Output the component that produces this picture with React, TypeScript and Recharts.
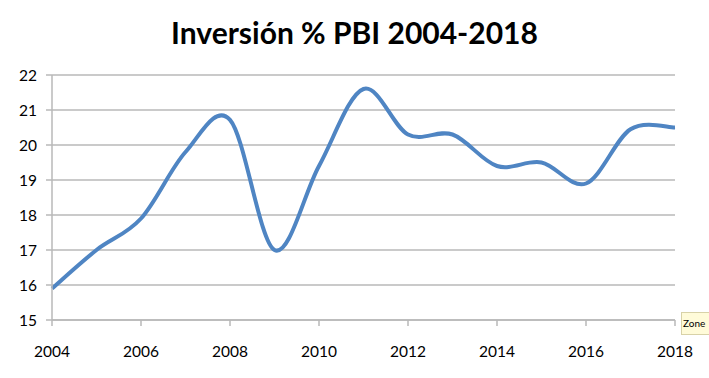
import { LineChart, Line, XAxis, YAxis, CartesianGrid } from "recharts";

const years = [2004, 2005, 2006, 2007, 2008, 2009, 2010, 2011, 2012, 2013, 2014, 2015, 2016, 2017, 2018];
const inversion = [15.9, 17.0, 17.9, 19.8, 20.72, 17.0, 19.4, 21.6, 20.3, 20.3, 19.4, 19.5, 18.9, 20.45, 20.5];
const xTicks = [2004, 2006, 2008, 2010, 2012, 2014, 2016, 2018];
const yTicks = [15, 16, 17, 18, 19, 20, 21, 22];

const data = years.map((year, i) => ({ year, value: inversion[i] }));

const font = "Lato, 'Open Sans', sans-serif";

// Excel-like smoothed line (Catmull-Rom through every point)
function smoothCurve(context: any) {
  let pts: number[][] = [];
  return {
    areaStart() {},
    areaEnd() {},
    lineStart() {
      pts = [];
    },
    point(x: number, y: number) {
      pts.push([+x, +y]);
    },
    lineEnd() {
      if (!pts.length) return;
      context.moveTo(pts[0][0], pts[0][1]);
      for (let i = 0; i < pts.length - 1; i++) {
        const p0 = pts[i - 1] || pts[i];
        const p1 = pts[i];
        const p2 = pts[i + 1];
        const p3 = pts[i + 2] || p2;
        context.bezierCurveTo(
          p1[0] + (p2[0] - p0[0]) / 6,
          p1[1] + (p2[1] - p0[1]) / 6,
          p2[0] - (p3[0] - p1[0]) / 6,
          p2[1] - (p3[1] - p1[1]) / 6,
          p2[0],
          p2[1]
        );
      }
    },
  };
}

export default function App() {
  return (
    <div style={{ position: "absolute", left: 0, top: 0, width: 709, height: 378, background: "#fff", fontFamily: font }}>
      <div
        style={{
          position: "absolute",
          top: 14,
          left: 0,
          width: 709,
          textAlign: "center",
          fontSize: 30,
          fontWeight: 700,
          color: "#000",
        }}
      >
        Inversión % PBI 2004-2018
      </div>
      <LineChart width={709} height={378} data={data} margin={{ top: 75, right: 34, bottom: 0, left: 0 }}>
        <CartesianGrid vertical={false} stroke="#b8b8b8" strokeWidth={1.5} />
        <XAxis
          dataKey="year"
          type="number"
          domain={[2004, 2018]}
          ticks={xTicks}
          height={58}
          tickSize={6}
          tickMargin={20}
          stroke="#b8b8b8"
          strokeWidth={1.5}
          tick={{ fill: "#000", fontSize: 15.5, fontFamily: font }}
        />
        <YAxis
          domain={[15, 22]}
          ticks={yTicks}
          width={52}
          tickSize={6}
          tickMargin={9}
          stroke="#b8b8b8"
          strokeWidth={1.5}
          tick={{ fill: "#000", fontSize: 15.5, fontFamily: font }}
        />
        <Line
          dataKey="value"
          type={smoothCurve as any}
          stroke="#4f85c3"
          strokeWidth={4}
          dot={false}
          isAnimationActive={false}
        />
      </LineChart>
      <div
        style={{
          position: "absolute",
          left: 681,
          top: 312,
          width: 26,
          height: 21,
          background: "#fffbd9",
          border: "1px solid #d8d2a8",
          fontSize: 10,
          lineHeight: "21px",
          paddingLeft: 1,
          overflow: "hidden",
          whiteSpace: "nowrap",
        }}
      >
        Zone
      </div>
    </div>
  );
}
